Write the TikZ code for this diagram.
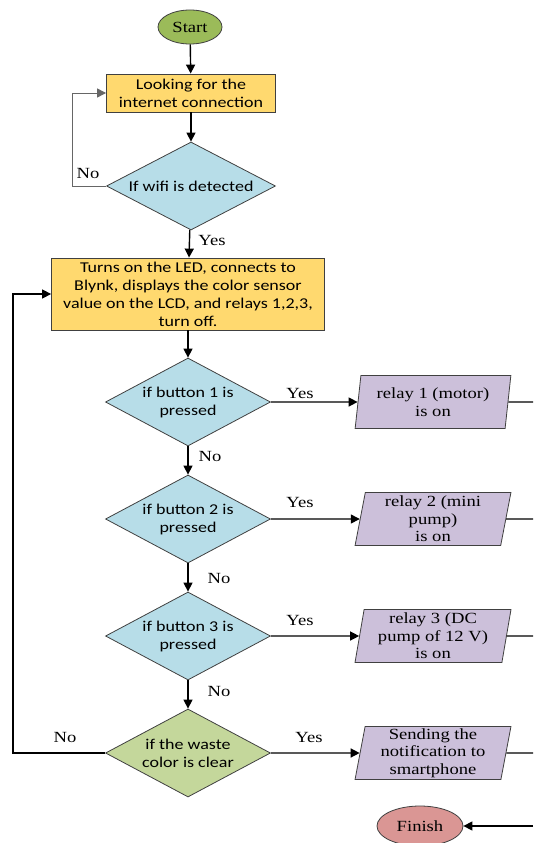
\documentclass[tikz,border=0pt]{standalone}
\usepackage{fontspec}
\setmainfont[FakeStretch=1.2]{Liberation Serif}
\newfontfamily\boxfont[FakeStretch=1.2]{Carlito}
\usetikzlibrary{shapes.geometric,arrows.meta}
\definecolor{startgreen}{HTML}{9BBB59}
\definecolor{procyellow}{HTML}{FFD96F}
\definecolor{decblue}{HTML}{B7DDE8}
\definecolor{decgreen}{HTML}{C4D79B}
\definecolor{iopurple}{HTML}{CCC0DA}
\definecolor{finred}{HTML}{DA9694}
\definecolor{edgegray}{HTML}{404040}
\begin{document}
\begin{tikzpicture}[x=1pt,y=-1pt,
  font=\fontsize{15.5}{17.5}\selectfont,
  terminal/.style={ellipse,draw=edgegray,line width=0.8pt,inner sep=0pt},
  procbox/.style={rectangle,draw=edgegray,line width=0.8pt,fill=procyellow,align=center,
     font=\boxfont\fontsize{15}{18}\selectfont,inner sep=0pt},
  decision/.style={diamond,draw=edgegray,line width=0.8pt,align=center,aspect=1.875,
     minimum width=165pt,minimum height=88pt,inner sep=0pt,
     font=\boxfont\fontsize{15}{18}\selectfont},
  iobox/.style={trapezium,trapezium left angle=81,trapezium right angle=99,
     trapezium stretches=true,draw=edgegray,line width=0.8pt,fill=iopurple,align=center,
     minimum width=156pt,minimum height=53pt,inner sep=0pt,
     font=\fontsize{15.5}{17.5}\selectfont},
  flow/.style={line width=1.4pt,-{Triangle[length=9pt,width=9pt]}},
  plain/.style={line width=1.4pt},
  lbl/.style={inner sep=0pt,font=\fontsize{15.5}{17}\selectfont}]
\useasboundingbox (0,0) rectangle (533,843);

\node[terminal,fill=startgreen,minimum width=64pt,minimum height=34pt] (start) at (190,27) {Start};
\node[procbox,minimum width=169pt,minimum height=38pt] (look) at (191,93) {Looking for the\\internet connection};
\node[decision,fill=decblue,minimum width=169pt] (wifi) at (191,186) {If wifi is detected};
\node[procbox,minimum width=273pt,minimum height=72pt] (init) at (188,294)
  {Turns on the LED, connects to\\Blynk, displays the color sensor\\value on the LCD, and relays 1,2,3,\\turn off.};
\node[decision,fill=decblue] (b1) at (188,402) {if button 1 is\\pressed};
\node[decision,fill=decblue] (b2) at (188,519) {if button 2 is\\pressed};
\node[decision,fill=decblue] (b3) at (188,636) {if button 3 is\\pressed};
\node[decision,fill=decgreen] (waste) at (188,753) {if the waste\\color is clear};

\node[iobox] (r1) at (433,402) {relay 1 (motor)\\is on};
\node[iobox] (r2) at (433,519) {relay 2 (mini\\pump)\\is on};
\node[iobox] (r3) at (433,636) {relay 3 (DC\\pump of 12 V)\\is on};
\node[iobox] (notif) at (433,753) {Sending the\\notification to\\smartphone};
\node[terminal,fill=finred,minimum width=86pt,minimum height=40pt] (finish) at (420,826) {Finish};

\coordinate (e1) at (533,402);
\coordinate (e2) at (533,519);
\coordinate (e3) at (533,636);
\coordinate (e4) at (533,753);
\coordinate (ef) at (533,826);

\draw[flow] (start) -- (look);
\draw[flow] (look) -- (wifi);
\draw[flow,line width=1pt,draw=gray!80!black] (wifi.west) -- (72,186) -- (72,93) -- (look.west);
\draw[flow] (wifi) -- (init);
\draw[flow] (init) -- (b1);
\draw[flow] (b1) -- (b2);
\draw[flow] (b2) -- (b3);
\draw[flow] (b3) -- (waste);
\draw[flow] (b1) -- (r1);
\draw[flow] (b2) -- (r2);
\draw[flow] (b3) -- (r3);
\draw[flow] (waste) -- (notif);
\draw[flow] (waste.west) -- (13,753) -- (13,294) -- (init.west);
\draw[plain] (r1) -- (e1);
\draw[plain] (r2) -- (e2);
\draw[plain] (r3) -- (e3);
\draw[plain] (notif) -- (e4);
\draw[flow] (ef) -- (finish);

\node[lbl] (lno0) at (88,173) {No};
\node[lbl] (lyes0) at (212,240) {Yes};
\node[lbl] (lyes1) at (300,393) {Yes};
\node[lbl] (lno1) at (210,456) {No};
\node[lbl] (lyes2) at (300,502) {Yes};
\node[lbl] (lno2) at (219,578) {No};
\node[lbl] (lyes3) at (300,620) {Yes};
\node[lbl] (lno3) at (219,691) {No};
\node[lbl] (lyes4) at (309,737) {Yes};
\node[lbl] (lno4) at (65,737) {No};
\end{tikzpicture}
\end{document}
